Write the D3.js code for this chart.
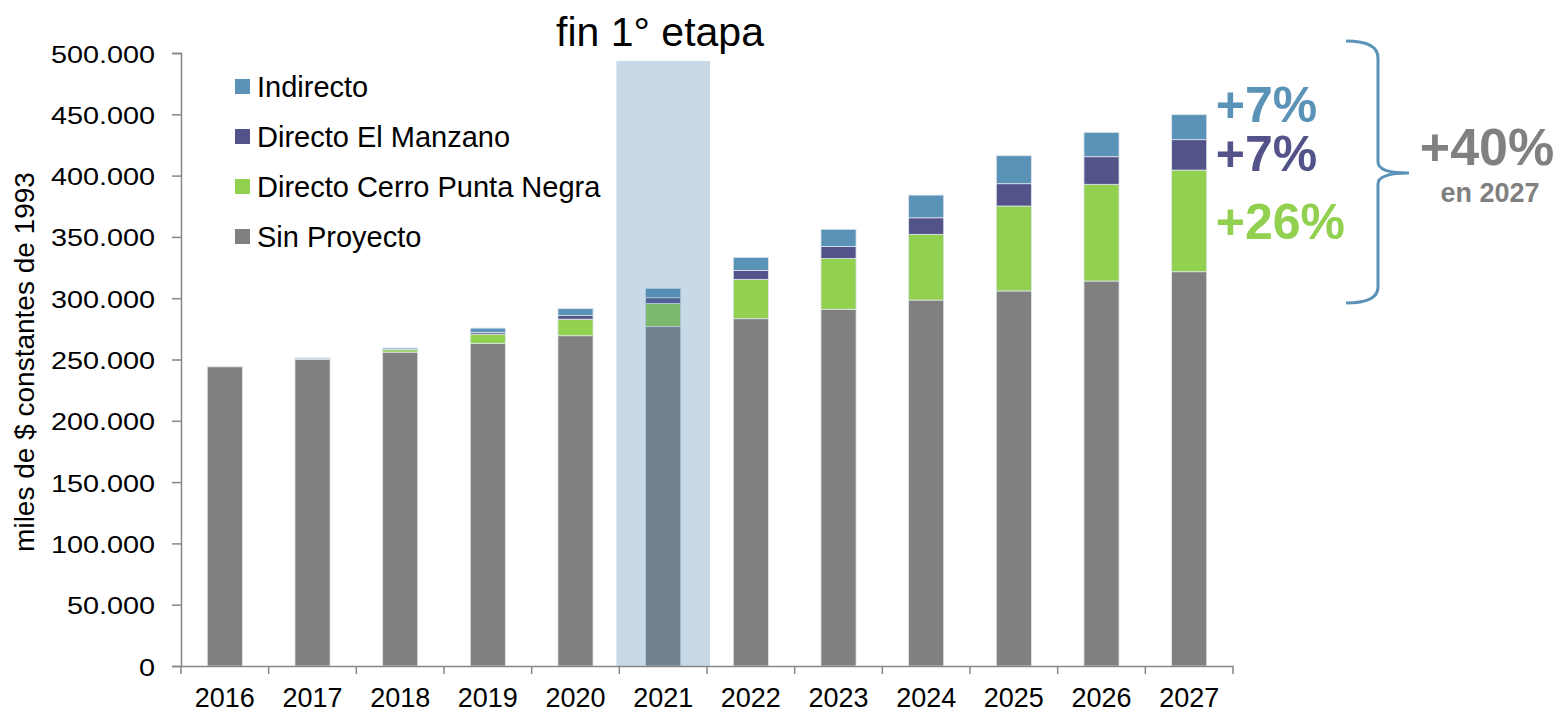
<!DOCTYPE html>
<html>
<head>
<meta charset="utf-8">
<script src="https://cdn.jsdelivr.net/npm/d3@7"></script>
<style>
  body { margin: 0; background: #fff; }
  text { font-family: "Liberation Sans", Arial, sans-serif; }
</style>
</head>
<body>
<script>
// años y series (miles de $ constantes de 1993)
var years = ["2016", "2017", "2018", "2019", "2020", "2021", "2022", "2023", "2024", "2025", "2026", "2027"];
var sinProyecto = [244000, 250000, 256000, 263000, 269400, 276800, 283300, 291000, 298500, 305900, 314000, 321600];
var cerroPuntaNegra = [0, 300, 2000, 7700, 13500, 19000, 32100, 41300, 53600, 69300, 78900, 82900];
var elManzano = [0, 200, 400, 1300, 2900, 4600, 7300, 9800, 13500, 18200, 22500, 24800];
var indirecto = [0, 800, 1000, 3600, 5700, 7600, 10600, 14100, 18500, 22800, 19900, 20400];

var seriesNames = ["Sin Proyecto", "Directo Cerro Punta Negra", "Directo El Manzano", "Indirecto"];
var seriesColors = ["#808080", "#92d050", "#535389", "#5b93b8"];
var yTicks = [0, 50000, 100000, 150000, 200000, 250000, 300000, 350000, 400000, 450000, 500000];
var highlightYear = "2021";
var highlightTop = 493500;

var width = 1555, height = 713;

var rows = years.map(function (y, i) {
  return {
    year: y,
    "Sin Proyecto": sinProyecto[i],
    "Directo Cerro Punta Negra": cerroPuntaNegra[i],
    "Directo El Manzano": elManzano[i],
    "Indirecto": indirecto[i]
  };
});

var stacked = d3.stack().keys(seriesNames)(rows);

var x = d3.scaleBand()
  .domain(years)
  .range([181, 1233])
  .paddingInner(0.6)
  .paddingOuter(0.3);

var y = d3.scaleLinear()
  .domain([0, 500000])
  .range([666, 53]);

var color = d3.scaleOrdinal().domain(seriesNames).range(seriesColors);

var locale = d3.formatLocale({ decimal: ",", thousands: ".", grouping: [3], currency: ["$", ""] });
var fmt = locale.format(",");

var svg = d3.select("body").append("svg")
  .attr("width", width)
  .attr("height", height);

// barras apiladas
svg.append("g").selectAll("g")
  .data(stacked)
  .join("g")
  .attr("fill", function (d) { return color(d.key); })
  .selectAll("rect")
  .data(function (d) { return d; })
  .join("rect")
  .attr("x", function (d) { return x(d.data.year); })
  .attr("width", x.bandwidth())
  .attr("y", function (d) { return y(d[1]); })
  .attr("height", function (d) { return Math.max(0, y(d[0]) - y(d[1])); })
  .attr("stroke", "#dfe6ec")
  .attr("stroke-width", 0.8);

// franja fin 1° etapa (semi transparente encima de la barra)
var hx = x(highlightYear) - x.step() * x.paddingInner() / 2 - 3;
svg.append("rect")
  .attr("x", hx)
  .attr("width", x.step() + 6)
  .attr("y", y(highlightTop))
  .attr("height", y(0) - y(highlightTop))
  .attr("fill", "rgb(72,132,174)")
  .attr("opacity", 0.3);

svg.append("text")
  .attr("x", 660)
  .attr("y", 46)
  .attr("text-anchor", "middle")
  .style("font-size", "41px")
  .attr("fill", "#000")
  .text("fin 1° etapa");

// eje Y
var yAxis = svg.append("g")
  .attr("transform", "translate(181,0)")
  .call(d3.axisLeft(y).tickValues(yTicks).tickFormat(fmt).tickSize(9));
yAxis.select(".domain").attr("stroke", "#868686").attr("stroke-width", 1.5);
yAxis.selectAll(".tick line").attr("stroke", "#868686").attr("stroke-width", 1.5);
yAxis.selectAll(".tick text")
  .attr("x", null)
  .attr("dy", null)
  .attr("y", 9)
  .attr("transform", "translate(-26,0) scale(1.2,1)")
  .attr("fill", "#000")
  .style("font-size", "24px")
  .style("font-family", "Liberation Sans, Arial, sans-serif");

// eje X
var xAxis = svg.append("g")
  .attr("transform", "translate(0,666)")
  .call(d3.axisBottom(x).tickSize(0));
xAxis.select(".domain").attr("stroke", "#868686").attr("stroke-width", 1.5);
xAxis.selectAll(".tick text")
  .attr("dy", null)
  .attr("y", 41)
  .attr("fill", "#000")
  .style("font-size", "27px")
  .style("font-family", "Liberation Sans, Arial, sans-serif");

// separadores entre categorías
svg.append("g").selectAll("line")
  .data(years.concat(["end"]))
  .join("line")
  .attr("x1", function (d, i) { return 181 + i * x.step(); })
  .attr("x2", function (d, i) { return 181 + i * x.step(); })
  .attr("y1", 666)
  .attr("y2", 674)
  .attr("stroke", "#868686")
  .attr("stroke-width", 1.5);

// título eje Y
svg.append("text")
  .attr("transform", "translate(34,362) rotate(-90)")
  .attr("text-anchor", "middle")
  .style("font-size", "28px")
  .attr("fill", "#000")
  .text("miles de $ constantes de 1993");

// leyenda
var legend = svg.append("g").selectAll("g")
  .data(seriesNames.slice().reverse())
  .join("g")
  .attr("transform", function (d, i) { return "translate(235," + (86.5 + i * 50) + ")"; });

legend.append("rect")
  .attr("y", -7.5)
  .attr("width", 15)
  .attr("height", 15)
  .attr("fill", color);

legend.append("text")
  .attr("x", 22)
  .attr("y", 10)
  .style("font-size", "29px")
  .attr("fill", "#000")
  .text(function (d) { return d; });

// anotaciones de 2027
var lastX = x("2027") + x.bandwidth() + 9;
var notes = [
  { t: "+7%", y: 122, c: seriesColors[3] },
  { t: "+7%", y: 171, c: seriesColors[2] },
  { t: "+26%", y: 239, c: seriesColors[1] }
];
svg.append("g").selectAll("text")
  .data(notes)
  .join("text")
  .attr("x", lastX)
  .attr("y", function (d) { return d.y; })
  .attr("fill", function (d) { return d.c; })
  .style("font-size", "50px")
  .style("font-weight", "bold")
  .text(function (d) { return d.t; });

// llave
var p = d3.path();
p.moveTo(1346, 41);
p.quadraticCurveTo(1378, 41, 1378, 58);
p.lineTo(1378, 162);
p.quadraticCurveTo(1378, 173, 1409, 173);
p.quadraticCurveTo(1378, 173, 1378, 184);
p.lineTo(1378, 287);
p.quadraticCurveTo(1378, 303, 1346, 303);
svg.append("path")
  .attr("d", p.toString())
  .attr("fill", "none")
  .attr("stroke", seriesColors[3])
  .attr("stroke-width", 3);

svg.append("text")
  .attr("x", 1487)
  .attr("y", 165)
  .attr("text-anchor", "middle")
  .attr("fill", "#808080")
  .style("font-size", "52px")
  .style("font-weight", "bold")
  .text("+40%");

svg.append("text")
  .attr("x", 1490)
  .attr("y", 202)
  .attr("text-anchor", "middle")
  .attr("fill", "#808080")
  .style("font-size", "27px")
  .style("font-weight", "bold")
  .text("en 2027");
</script>
</body>
</html>
